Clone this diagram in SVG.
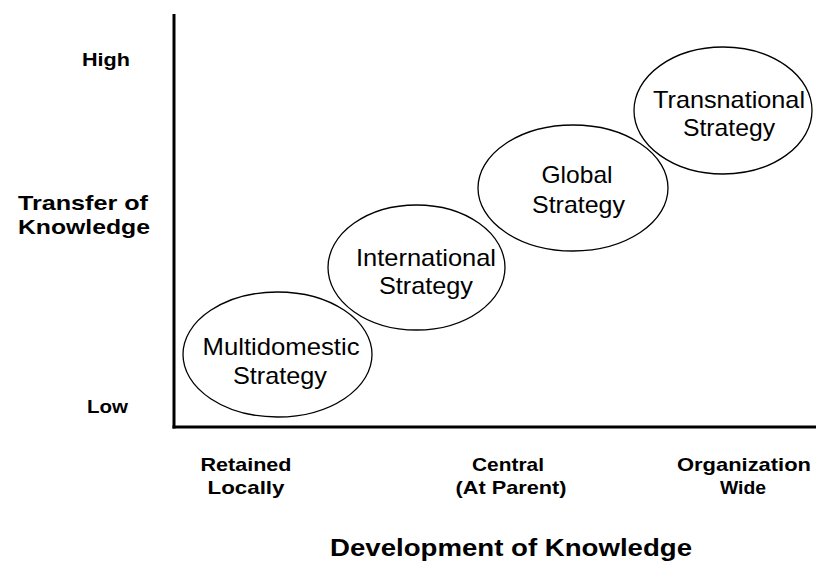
<svg xmlns="http://www.w3.org/2000/svg" width="816" height="563" viewBox="0 0 816 563">
  <style>
    .axis { stroke: #000; stroke-width: 3; fill: none; }
    .node ellipse { fill: none; stroke: #000; stroke-width: 1.3; }
    .node text { font-family: "Liberation Sans", Arial, sans-serif; font-size: 24px; fill: #000; text-anchor: middle; }
    .lbl { font-family: "Liberation Sans", Arial, sans-serif; font-weight: bold; fill: #000; text-anchor: middle; }
  </style>
  <rect width="816" height="563" fill="#fff"/>

  <!-- axes -->
  <g id="axes">
    <line class="axis" x1="174" y1="14" x2="174" y2="428.5"/>
    <line class="axis" x1="172.5" y1="427" x2="816" y2="427"/>
  </g>

  <!-- vertical axis labels -->
  <g id="y-labels">
    <text class="lbl" x="106" y="66" font-size="19" textLength="48" lengthAdjust="spacingAndGlyphs">High</text>
    <text class="lbl" x="107.5" y="413" font-size="19" textLength="41" lengthAdjust="spacingAndGlyphs">Low</text>
    <text class="lbl" x="83" y="210" font-size="21" textLength="130" lengthAdjust="spacingAndGlyphs">Transfer of</text>
    <text class="lbl" x="84" y="234" font-size="21" textLength="132" lengthAdjust="spacingAndGlyphs">Knowledge</text>
  </g>

  <!-- horizontal axis labels -->
  <g id="x-labels">
    <text class="lbl" x="246" y="471" font-size="19" textLength="91" lengthAdjust="spacingAndGlyphs">Retained</text>
    <text class="lbl" x="246" y="494" font-size="19" textLength="77" lengthAdjust="spacingAndGlyphs">Locally</text>
    <text class="lbl" x="508" y="471" font-size="19" textLength="72" lengthAdjust="spacingAndGlyphs">Central</text>
    <text class="lbl" x="511" y="494" font-size="19" textLength="111" lengthAdjust="spacingAndGlyphs">(At Parent)</text>
    <text class="lbl" x="744" y="471" font-size="19" textLength="134" lengthAdjust="spacingAndGlyphs">Organization</text>
    <text class="lbl" x="743" y="494" font-size="19" textLength="46" lengthAdjust="spacingAndGlyphs">Wide</text>
    <text class="lbl" x="511" y="556" font-size="23" textLength="362" lengthAdjust="spacingAndGlyphs">Development of Knowledge</text>
  </g>

  <!-- strategy nodes -->
  <g id="multidomestic" class="node">
    <ellipse cx="277.5" cy="354.5" rx="94.5" ry="62.5"/>
    <text x="281" y="355" textLength="157" lengthAdjust="spacingAndGlyphs">Multidomestic</text>
    <text x="280" y="384" textLength="94" lengthAdjust="spacingAndGlyphs">Strategy</text>
  </g>
  <g id="international" class="node">
    <ellipse cx="416.5" cy="267.5" rx="88.5" ry="62.5"/>
    <text x="426" y="266" textLength="140" lengthAdjust="spacingAndGlyphs">International</text>
    <text x="426" y="294" textLength="94" lengthAdjust="spacingAndGlyphs">Strategy</text>
  </g>
  <g id="global" class="node">
    <ellipse cx="573" cy="188" rx="95" ry="63"/>
    <text x="577" y="183" textLength="71" lengthAdjust="spacingAndGlyphs">Global</text>
    <text x="578.5" y="213" textLength="93" lengthAdjust="spacingAndGlyphs">Strategy</text>
  </g>
  <g id="transnational" class="node">
    <ellipse cx="723" cy="110.5" rx="89" ry="63.5"/>
    <text x="729" y="108" textLength="152" lengthAdjust="spacingAndGlyphs">Transnational</text>
    <text x="729" y="136" textLength="92" lengthAdjust="spacingAndGlyphs">Strategy</text>
  </g>

  <!-- no connectors in this chart -->
  <g id="connectors"/>
</svg>
